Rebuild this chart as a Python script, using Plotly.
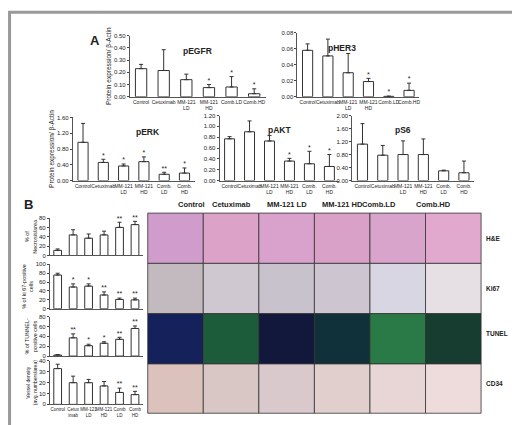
import plotly.graph_objects as go

groups_a1 = ["Control", "Cetuximab", "MM-121<br>LD", "MM-121<br>HD", "Comb.LD", "Comb.HD"]
groups_a2 = ["Control", "Cetuximab", "MM-121<br>LD", "MM-121<br>HD", "Comb.<br>LD", "Comb.<br>HD"]
groups_b = ["Control", "Cetux<br>imab", "MM-121<br>LD", "MM-121<br>HD", "Comb<br>LD", "Comb<br>HD"]

pegfr = [0.23, 0.215, 0.14, 0.075, 0.08, 0.025]
pegfr_err = [0.035, 0.17, 0.045, 0.025, 0.085, 0.04]
pegfr_sig = ["", "", "", "*", "*", "*"]
pher3 = [0.058, 0.051, 0.030, 0.019, 0.0005, 0.008]
pher3_err = [0.008, 0.021, 0.024, 0.004, 0.0003, 0.009]
pher3_sig = ["", "", "", "*", "*", "*"]
perk = [0.97, 0.46, 0.37, 0.48, 0.16, 0.19]
perk_err = [0.48, 0.08, 0.05, 0.12, 0.05, 0.13]
perk_sig = ["", "*", "*", "*", "**", "*"]
pakt = [0.77, 0.90, 0.73, 0.36, 0.31, 0.26]
pakt_err = [0.04, 0.20, 0.10, 0.05, 0.23, 0.22]
pakt_sig = ["", "", "", "*", "*", "*"]
ps6 = [1.12, 0.78, 0.80, 0.80, 0.30, 0.24]
ps6_err = [0.63, 0.30, 0.42, 0.48, 0.02, 0.36]
ps6_sig = ["", "", "", "", "", ""]

necrosis = [11, 44, 37, 44, 60, 66]
necrosis_err = [3, 11, 9, 8, 11, 7]
necrosis_sig = ["", "", "", "", "**", "**"]
ki67 = [76, 49, 51, 31, 21, 20]
ki67_err = [4, 7, 5, 7, 3, 4]
ki67_sig = ["", "*", "*", "**", "**", "**"]
tunel = [2, 37, 21, 26, 34, 56]
tunel_err = [1, 8, 3, 3, 4, 5]
tunel_sig = ["", "**", "*", "*", "**", "**"]
vessel = [33, 20, 20, 17, 11, 9]
vessel_err = [4, 6, 3, 4, 4, 3]
vessel_sig = ["", "", "", "", "**", "**"]

photo_cols = ["Control", "Cetuximab", "MM-121 LD", "MM-121 HD", "Comb.LD", "Comb.HD"]
photo_rows = ["H&E", "Ki67", "TUNEL", "CD34"]
photo_colors = [
    ["#cf9ccc", "#dca2c8", "#d9a2cc", "#d9a0c8", "#d9a4cc", "#e2a9cf"],
    ["#c3bac0", "#cfc8d0", "#c8c2cc", "#cdc6d0", "#d8d6e2", "#e6dfe4"],
    ["#15215a", "#1d5c3a", "#11183c", "#10303a", "#2a7a48", "#163d30"],
    ["#dcc2bd", "#d8c7c4", "#dac9cc", "#e0cfcc", "#e8d6d6", "#eedcdc"],
]

W, H = 520, 425
fig = go.Figure()
layout = {}
ann = []
n = [0]


def dx(a, b):
    return [a / W, b / W]


def dy(top, bot):
    return [1 - bot / H, 1 - top / H]


def panel(cats, vals, errs, sig, x0, x1, y0, y1, ymax, dtick, fmt, title=None,
          ytitle=None, showx=True, fs=5, tfs=6.5):
    n[0] += 1
    i = n[0]
    xa = "x" if i == 1 else "x%d" % i
    ya = "y" if i == 1 else "y%d" % i
    fig.add_trace(go.Bar(
        x=cats, y=vals, xaxis=xa, yaxis=ya, width=0.5,
        marker=dict(color="white", line=dict(color="#333", width=1)),
        error_y=dict(type="data", array=errs, symmetric=False, arrayminus=[0] * 6,
                     color="#333", thickness=1, width=2),
        showlegend=False))
    fig.add_trace(go.Scatter(
        x=cats, y=[v + e for v, e in zip(vals, errs)], text=sig, mode="text",
        textposition="top center", textfont=dict(size=7, color="#222"),
        xaxis=xa, yaxis=ya, showlegend=False, cliponaxis=False))
    key = "" if i == 1 else str(i)
    layout["xaxis" + key] = dict(
        domain=dx(x0, x1), anchor=ya, showticklabels=showx,
        tickfont=dict(size=fs), tickangle=0, showline=True, linecolor="#555",
        ticks="")
    layout["yaxis" + key] = dict(
        domain=dy(y0, y1), anchor=xa, range=[0, ymax], dtick=dtick,
        tickformat=fmt, tickfont=dict(size=6), showline=True, linecolor="#555",
        ticks="outside", ticklen=2, showgrid=False, zeroline=False,
        title=dict(text=ytitle, font=dict(size=tfs), standoff=1) if ytitle else None)
    if title:
        ann.append(dict(text="<b>%s</b>" % title, xref="paper", yref="paper",
                        x=(x0 + x1) / 2 / W, y=1 - (y0 + 8) / H, showarrow=False,
                        font=dict(size=8.5)))


panel(groups_a1, pegfr, pegfr_err, pegfr_sig, 122, 258, 25, 87, 0.5, 0.1, ".2f",
      "pEGFR", "Protein expression/ β-Actin")
panel(groups_a1, pher3, pher3_err, pher3_sig, 290, 412, 22, 87, 0.08, 0.02, ".2f",
      "pHER3")
panel(groups_a2, perk, perk_err, perk_sig, 65, 187, 108, 172, 1.6, 0.4, ".2f",
      "pERK", "Protein expression/ β-Actin")
panel(groups_a2, pakt, pakt_err, pakt_sig, 212, 332, 106, 172, 1.2, 0.2, ".2f", "pAKT")
panel(groups_a2, ps6, ps6_err, ps6_sig, 345, 467, 106, 172, 2.0, 0.4, ".2f", "pS6")

panel(groups_b, necrosis, necrosis_err, necrosis_sig, 42, 135, 210, 248, 80, 20, "d",
      ytitle="% of<br>Necrosis/area", showx=False, tfs=5.5)
panel(groups_b, ki67, ki67_err, ki67_sig, 42, 135, 257, 302, 100, 20, "d",
      ytitle="% of ki 67-positive<br>cells", showx=False, tfs=5.5)
panel(groups_b, tunel, tunel_err, tunel_sig, 42, 135, 310, 350, 80, 20, "d",
      ytitle="% of TUNNEL-<br>positive cells", showx=False, tfs=5.5)
panel(groups_b, vessel, vessel_err, vessel_sig, 42, 135, 355, 399, 40, 10, "d",
      ytitle="Vessel density<br>(avg. numbers/area)", showx=True, fs=4.5, tfs=5)

shapes = [dict(type="rect", xref="paper", yref="paper", x0=0.003, x1=0.997,
               y0=0.003, y1=0.997, line=dict(color="#999", width=3))]
px0, px1 = 140, 474
row_edges = [205, 256, 307, 358, 408]
cw = (px1 - px0) / 6
for r, row in enumerate(photo_rows):
    for c in range(6):
        shapes.append(dict(type="rect", xref="paper", yref="paper",
                           x0=(px0 + c * cw) / W, x1=(px0 + (c + 1) * cw) / W,
                           y0=1 - row_edges[r + 1] / H, y1=1 - row_edges[r] / H,
                           fillcolor=photo_colors[r][c],
                           line=dict(color="#333", width=0.8)))
    ann.append(dict(text="<b>%s</b>" % row, xref="paper", yref="paper",
                    x=(px1 + 3) / W, xanchor="left",
                    y=1 - (row_edges[r] + row_edges[r + 1]) / 2 / H,
                    showarrow=False, font=dict(size=6.5)))
for c, name in enumerate(photo_cols):
    ann.append(dict(text="<b>%s</b>" % name, xref="paper", yref="paper",
                    x=(px0 + (c + 0.5) * cw) / W, y=1 - 196 / H,
                    showarrow=False, font=dict(size=7.5)))
ann.append(dict(text="<b>A</b>", xref="paper", yref="paper", x=80 / W, y=1 - 20 / H,
                showarrow=False, font=dict(size=13)))
ann.append(dict(text="<b>B</b>", xref="paper", yref="paper", x=14 / W, y=1 - 196 / H,
                showarrow=False, font=dict(size=13)))

fig.update_layout(width=W, height=H, margin=dict(l=0, r=0, t=0, b=0),
                  paper_bgcolor="white", plot_bgcolor="white",
                  font=dict(family="Liberation Sans, Arial", color="#222"),
                  annotations=ann, shapes=shapes, bargap=0.5, **layout)
fig.write_html("out.html")
